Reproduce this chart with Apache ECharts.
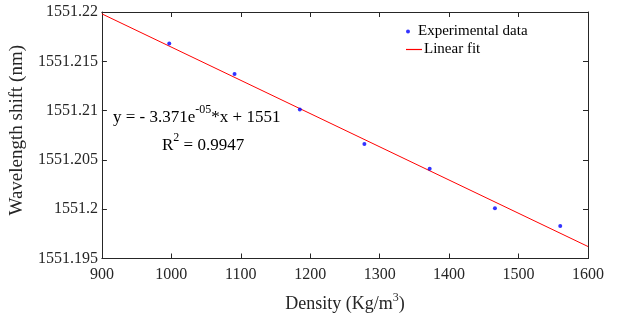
<!DOCTYPE html>
<html>
<head>
<meta charset="utf-8">
<script src="https://cdn.jsdelivr.net/npm/echarts@6/dist/echarts.min.js"></script>
<style>
  html, body { margin: 0; padding: 0; background: #fff; }
  #chart { width: 619px; height: 320px; }
</style>
</head>
<body>
<div id="chart"></div>
<script>
// Measured wavelength shift versus liquid density
const density = [997, 1091, 1185, 1278, 1372, 1466, 1560];
const wavelength = [1551.2168, 1551.2137, 1551.2101, 1551.2066, 1551.2041, 1551.2001, 1551.1983];

// Linear fit coefficients (y = slope * x + intercept)
const fitSlope = -3.371e-05;
const fitIntercept = 1551.25015;
const fitRange = [900, 1600];

const xTicks = { min: 900, max: 1600, step: 100 };
const yTicks = { min: 1551.195, max: 1551.22, step: 0.005 };

const serif = '"Liberation Serif", "DejaVu Serif", serif';
const ink = '#262626';

const points = density.map((d, i) => [d, wavelength[i]]);
const fitLine = fitRange.map(x => [x, fitSlope * x + fitIntercept]);

const fmtY = v => String(+(+v).toFixed(3));
const fmtX = v => String(Math.round(v));

const axisLine = { show: true, lineStyle: { color: ink, width: 1 } };
const tick = { show: true, inside: true, length: 5, lineStyle: { color: ink } };

const legendText = { fontFamily: serif, fontSize: 15, color: '#000', padding: [0, 0, 0, -3], lineHeight: 15 };

const chart = echarts.init(document.getElementById('chart'), null, { renderer: 'canvas' });

chart.setOption({
  animation: false,
  backgroundColor: '#fff',
  grid: { left: 101, right: 31, top: 12, bottom: 61.5, containLabel: false },
  legend: [
    {
      orient: 'vertical',
      left: 406,
      top: 24,
      padding: 0,
      itemWidth: 16,
      itemHeight: 4,
      textStyle: legendText,
      data: [{ name: 'Experimental data', icon: 'circle' }]
    },
    {
      orient: 'vertical',
      left: 406,
      top: 42,
      padding: 0,
      itemWidth: 16,
      itemHeight: 1.2,
      textStyle: legendText,
      data: [{ name: 'Linear fit', icon: 'rect' }]
    }
  ],
  xAxis: [
    {
      type: 'value',
      position: 'bottom',
      min: xTicks.min, max: xTicks.max, interval: xTicks.step,
      name: '{n|Density (Kg/m}{s|3}{n|)}',
      nameLocation: 'middle',
      nameGap: 33,
      nameTextStyle: {
        fontFamily: serif, fontSize: 18, color: ink,
        rich: {
          n: { fontFamily: serif, fontSize: 18, color: ink, lineHeight: 22, verticalAlign: 'bottom' },
          s: { fontFamily: serif, fontSize: 12, color: ink, lineHeight: 12, verticalAlign: 'top' }
        }
      },
      axisLine, axisTick: tick,
      axisLabel: { fontFamily: serif, fontSize: 16, color: ink, margin: 8, formatter: fmtX },
      splitLine: { show: false }
    },
    {
      type: 'value',
      position: 'top',
      min: xTicks.min, max: xTicks.max, interval: xTicks.step,
      axisLine, axisTick: tick,
      axisLabel: { show: false },
      splitLine: { show: false }
    }
  ],
  yAxis: [
    {
      type: 'value',
      position: 'left',
      min: yTicks.min, max: yTicks.max, interval: yTicks.step,
      name: 'Wavelength shift (nm)',
      nameLocation: 'middle',
      nameGap: 63,
      nameTextStyle: { fontFamily: serif, fontSize: 19, color: ink, padding: [0, 0, 0, 10] },
      axisLine, axisTick: tick,
      axisLabel: { fontFamily: serif, fontSize: 16, color: ink, margin: 4, formatter: fmtY },
      splitLine: { show: false }
    },
    {
      type: 'value',
      position: 'right',
      min: yTicks.min, max: yTicks.max, interval: yTicks.step,
      axisLine, axisTick: tick,
      axisLabel: { show: false },
      splitLine: { show: false }
    }
  ],
  series: [
    {
      name: 'Experimental data',
      type: 'scatter',
      data: points,
      symbol: 'circle',
      symbolSize: 4,
      itemStyle: { color: '#0000ff' },
      z: 3
    },
    {
      name: 'Linear fit',
      type: 'line',
      data: fitLine,
      showSymbol: false,
      symbol: 'none',
      lineStyle: { color: '#ff0000', width: 1 },
      itemStyle: { color: '#ff0000' },
      z: 2
    }
  ],
  graphic: [
    {
      type: 'text',
      left: 113,
      top: 104,
      style: {
        text: '{n|y = - 3.371e}{s|-05}{n|*x + 1551}',
        rich: {
          n: { fontFamily: serif, fontSize: 17, fill: '#000', lineHeight: 22, verticalAlign: 'bottom' },
          s: { fontFamily: serif, fontSize: 12, fill: '#000', lineHeight: 12, verticalAlign: 'top' }
        }
      }
    },
    {
      type: 'text',
      left: 162,
      top: 132,
      style: {
        text: '{n|R}{s|2}{n| = 0.9947}',
        rich: {
          n: { fontFamily: serif, fontSize: 17, fill: '#000', lineHeight: 22, verticalAlign: 'bottom' },
          s: { fontFamily: serif, fontSize: 12, fill: '#000', lineHeight: 12, verticalAlign: 'top' }
        }
      }
    }
  ]
});
</script>
</body>
</html>
